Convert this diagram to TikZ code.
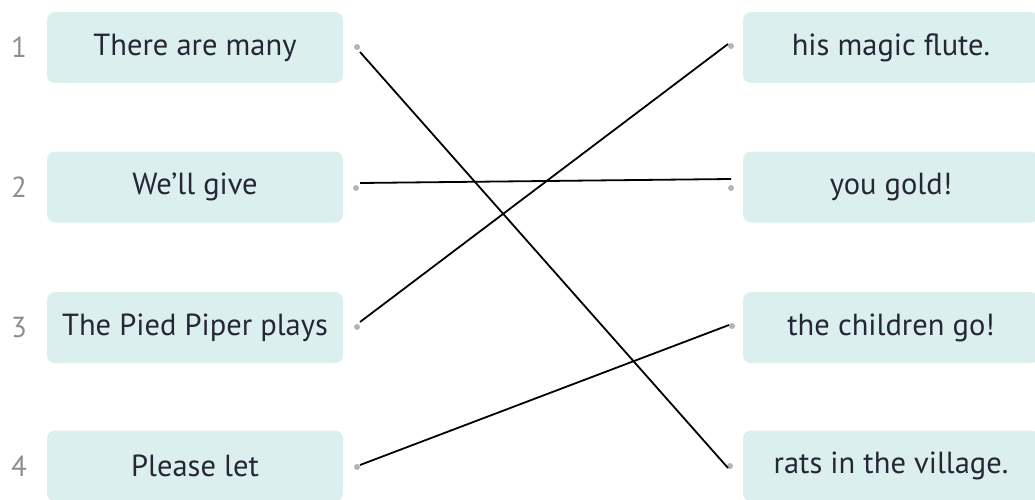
\documentclass[tikz,border=0pt]{standalone}
\usepackage{fontspec}
\setmainfont{PT Sans}
\begin{document}
\begin{tikzpicture}[x=1pt,y=-1pt,
  box/.style={fill=boxfill,rounded corners=8pt,minimum width=296pt,minimum height=71pt,inner sep=0pt,text=txt,font=\fontsize{30.5}{36}\selectfont},
  num/.style={text=numgray,font=\fontsize{29}{34}\selectfont,inner sep=0pt},
  dot/.style={circle,fill=dotgray,minimum size=6pt,inner sep=0pt},
  link/.style={line width=1.8pt,black}]
\definecolor{boxfill}{HTML}{DCEFEF}
\definecolor{txt}{HTML}{262636}
\definecolor{numgray}{HTML}{8E8E8E}
\definecolor{dotgray}{HTML}{B4B4B4}
\useasboundingbox (0,0) rectangle (1035,500);
% left column
\node[box] (a1) at (195,47.5) {There are many};
\node[box] (a2) at (195,187) {We’ll give};
\node[box] (a3) at (195,327.5) {The Pied Piper plays};
\node[box] (a4) at (195,466) {Please let};
% right column
\node[box] (b1) at (891,47.5) {his magic flute.};
\node[box] (b2) at (891,187) {you gold!};
\node[box] (b3) at (891,327.5) {the children go!};
\node[box] (b4) at (891,466) {rats in the village.};
% numbers
\node[num] (n1) at (19,47.5) {1};
\node[num] (n2) at (19,187) {2};
\node[num] (n3) at (19,327.5) {3};
\node[num] (n4) at (19,466) {4};
% dots
\node[dot] (l1) at (357,47) {};
\node[dot] (l2) at (356,188) {};
\node[dot] (l3) at (357,327) {};
\node[dot] (l4) at (357,467) {};
\node[dot] (r1) at (731,46) {};
\node[dot] (r2) at (731,188) {};
\node[dot] (r3) at (732,326) {};
\node[dot] (r4) at (730,466) {};
% connectors
\draw[link] ([shift={(3,5)}]l1.center) -- ([shift={(-2,2)}]r4.center);
\draw[link] ([shift={(4,-5)}]l2.center) -- ([shift={(0,-9)}]r2.center);
\draw[link] ([shift={(3,-5)}]l3.center) -- ([shift={(-3,-2)}]r1.center);
\draw[link] ([shift={(3,-2)}]l4.center) -- ([shift={(-3,-1)}]r3.center);
\end{tikzpicture}
\end{document}
